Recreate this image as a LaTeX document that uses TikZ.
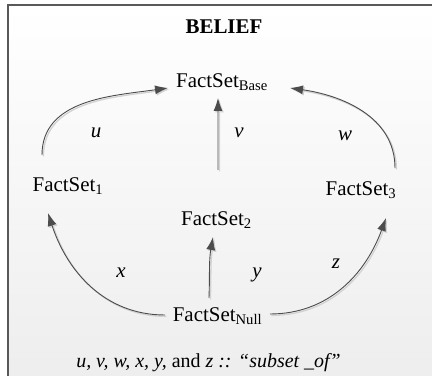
\documentclass[tikz,border=0pt]{standalone}
\usepackage{fontspec}
\setmainfont{Liberation Serif}
\usepackage{tikz}
\usetikzlibrary{arrows.meta, calc}

\begin{document}
\begin{tikzpicture}[x=1bp, y=1bp,
    fact/.style={anchor=base, inner sep=1bp, font=\fontsize{21}{24}\selectfont},
    lbl/.style={anchor=base, inner sep=1bp, font=\fontsize{21}{24}\selectfont\itshape},
    sub/.style={draw=black!70, line width=0.9bp,
      -{Latex[length=13bp,width=9bp]},
      preaction={draw=gray!35, line width=1.3bp, transform canvas={shift={(1.4bp,-1.4bp)}}}}]
                % frame
                \useasboundingbox (0,0) rectangle (432,376);
                \clip (0,0) rectangle (432,376);
                \shade[top color=white, bottom color=black!7] (8,371) rectangle (445,-10);
                \draw[black!65, line width=1.5bp] (8,-10) -- (8,371) -- (445,371);

                % title and note
                \node[anchor=base, font=\fontsize{21}{24}\selectfont\bfseries] (title) at (224,343) {BELIEF};
                \node[anchor=base, font=\fontsize{20}{24}\selectfont] (note) at (208.5,9)
                  {\textit{u, v, w, x, y,} and \textit{z} \textit{:: “subset \_of”}};

                % fact sets
                \node[fact] (base) at (222,289) {FactSet\textsubscript{Base}};
                \node[fact] (f1) at (68,185) {FactSet\textsubscript{1}};
                \node[fact] (f2) at (216.5,151) {FactSet\textsubscript{2}};
                \node[fact] (f3) at (361,181) {FactSet\textsubscript{3}};
                \node[fact] (null) at (217.5,55) {FactSet\textsubscript{Null}};

                % subset_of relations
                \draw[sub] ([shift={(-26,36)}]f1.base) to[out=90, in=188] ([shift={(-54,-1)}]base.base);
                \draw[sub] ([shift={(1.5,55)}]f2.base) -- ([shift={(-4,-11)}]base.base);
                \draw[sub] ([shift={(34,27)}]f3.base) to[out=90, in=-8] ([shift={(68,-1)}]base.base);
                \draw[sub] ([shift={(-52.5,6)}]null.base) to[out=180, in=-72] ([shift={(-20,-22)}]f1.base);
                \draw[sub] ([shift={(-8.5,23)}]null.base) to[out=88, in=-100] ([shift={(-3.5,-12)}]f2.base);
                \draw[sub] ([shift={(52.5,7)}]null.base) to[out=0, in=-110] ([shift={(25,-23)}]f3.base);

                % labels
                \foreach \l/\px/\py in {u/96/239, v/239/239, w/345/236, x/121/99, y/257/99, z/336/108} {
                  \node[lbl] (lab\l) at (\px,\py) {\l};
                }
\end{tikzpicture}
\end{document}
